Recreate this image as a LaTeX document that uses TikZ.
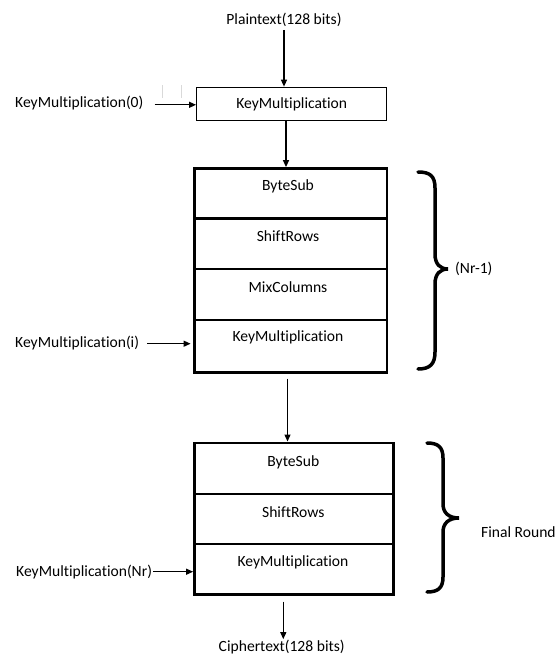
\documentclass[tikz,border=0pt]{standalone}
\usepackage{fontspec}
\setmainfont{Carlito}[Ligatures={NoCommon,NoRare,NoContextual}]
\usetikzlibrary{arrows.meta}
\begin{document}
\begin{tikzpicture}[x=1pt,y=-1pt,
  every node/.style={font=\fontsize{15.6}{18}\selectfont},
  txt/.style={inner sep=1pt},
  cellA/.style={draw, line width=2.4pt, minimum width=192.4pt, inner sep=0pt},
  cellB/.style={draw, line width=2.4pt, minimum width=199pt, inner sep=0pt},
  arr/.style={line width=1.3pt, -{Triangle[length=7pt,width=6pt]}},
  brc/.style={line width=3.5pt, line cap=round},
  faint/.style={gray!30, line width=0.8pt}]
\useasboundingbox (0,0) rectangle (559,656);

% top
\node[txt] (plain) at (284,20) {Plaintext(128 bits)};
\node[draw, line width=1.3pt, minimum width=190pt, minimum height=33.4pt, inner sep=0pt] (k0) at (291.7,104) {KeyMultiplication};
\node[txt, anchor=west] (kl0) at (14,103.3) {KeyMultiplication(0)};
\draw[faint] (162.3,85) -- (162.3,98);
\draw[faint] (181,85) -- (181,98);

% rounds block
\node[cellA, minimum height=50pt] (c1) at (290.5,193.3) {};
\node[cellA, minimum height=50.7pt] (c2) at (290.5,243.65) {};
\node[cellA, minimum height=50.7pt] (c3) at (290.5,294.35) {};
\node[cellA, minimum height=52.6pt] (c4) at (290.5,346) {};
\node[txt] (t1) at (288,186) {ByteSub};
\node[txt] (t2) at (288,236) {ShiftRows};
\node[txt] (t3) at (288,286.7) {MixColumns};
\node[txt] (t4) at (288,337.3) {KeyMultiplication};
\node[txt, anchor=west] (kli) at (14,342.7) {KeyMultiplication(i)};
\node[txt, anchor=west] (nr1) at (454,269) {(Nr-1)};

% final round block
\node[cellB, minimum height=51pt] (d1) at (293.8,468.2) {};
\node[cellB, minimum height=50.3pt] (d2) at (293.8,518.85) {};
\node[cellB, minimum height=50.3pt] (d3) at (293.8,569.15) {};
\node[txt] (u1) at (293.3,462) {ByteSub};
\node[txt] (u2) at (293.3,512) {ShiftRows};
\node[txt] (u3) at (293,562.3) {KeyMultiplication};
\node[txt, anchor=west] (klnr) at (15,571.7) {KeyMultiplication(Nr)};
\node[txt, anchor=west] (fin) at (480,531.7) {Final Round};
\node[txt] (ciph) at (281.7,647.3) {Ciphertext(128 bits)};

% connectors
\draw[arr, shorten <=2pt] (plain.south) -- (plain.south |- k0.north);
\draw[arr] ([xshift=10pt,yshift=-1.5pt]kl0.east) -- ([yshift=-1.5pt]kl0.east -| k0.west);
\draw[arr] ([xshift=-5.7pt]k0.south) -- ([xshift=-5.7pt]k0.south |- c1.north);
\draw[arr, shorten >=2.5pt] ([xshift=7pt,yshift=-1pt]kli.east) -- ([yshift=-1pt]kli.east -| c4.west);
\draw[arr] ([xshift=-3pt,yshift=-5pt]c4.south) -- ([xshift=-3pt]c4.south |- d1.north);
\draw[arr] (klnr.east) -- (klnr.east -| d3.west);
\draw[arr] ([xshift=1.6pt,yshift=-6pt]d3.south -| ciph.north) -- ([xshift=1.6pt]ciph.north);

% braces
\draw[brc] (418,172) .. controls (430,172) and (435,176) .. (435,188) -- (435,254)
  .. controls (435,264) and (440,269) .. (448,269)
  .. controls (440,269) and (435,274) .. (435,284) -- (435,352)
  .. controls (435,364) and (430,369) .. (418,369);
\draw[brc] (427,443) .. controls (438,443) and (443,447) .. (443,458) -- (443,504)
  .. controls (443,513) and (449,518) .. (459,518)
  .. controls (449,518) and (443,523) .. (443,532) -- (443,577)
  .. controls (443,588) and (438,592) .. (427,592);
\end{tikzpicture}
\end{document}
